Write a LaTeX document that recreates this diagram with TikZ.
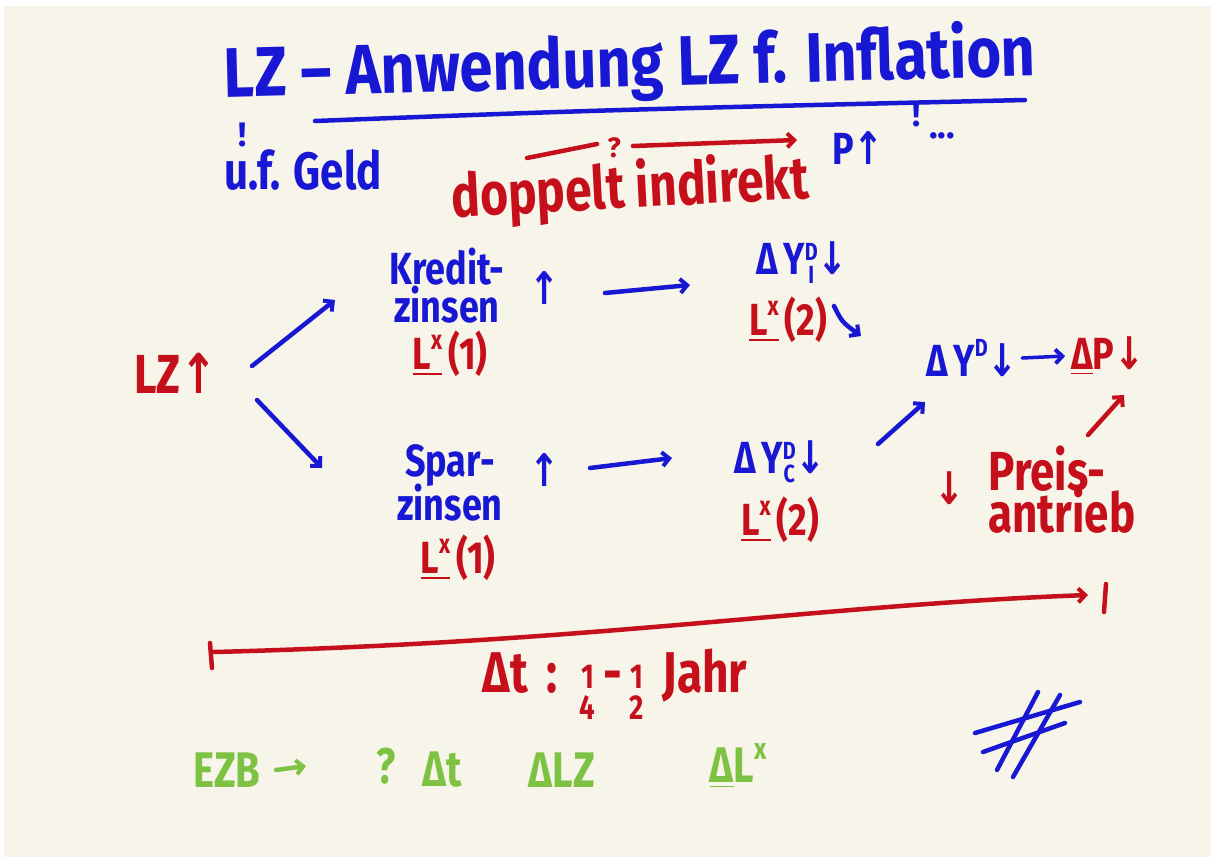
\documentclass[tikz,border=0pt]{standalone}
\usepackage{fontspec}
\usepackage{amsmath}
\usepackage{graphicx}
\setmainfont{Fira Sans}
\newfontfamily\arrfont{DejaVu Sans}
\usetikzlibrary{arrows.meta}
\definecolor{paper}{HTML}{F7F4E9}
\definecolor{ink}{HTML}{1818D4}
\definecolor{redink}{HTML}{C5101C}
\definecolor{greenink}{HTML}{7DC242}
\newcommand\hw[1]{\scalebox{1}[1.25]{#1}}
\newcommand\Lx{L\raisebox{0.45em}{\scalebox{0.6}{x}}}
\newcommand\upa{{\arrfont\bfseries ↑}}
\newcommand\dna{{\arrfont\bfseries ↓}}
\newcommand\ssb[2]{\raisebox{0.1em}{\scalebox{0.55}{\begin{tabular}{@{}c@{}}#1\\[-0.25em]#2\end{tabular}}}}
\newcommand\frc[2]{\raisebox{-0.15em}{\scalebox{0.6}{\begin{tabular}{@{}c@{}}#1\\[-0.2em]#2\end{tabular}}}}
\tikzset{
  txt/.style={inner sep=0pt, align=center, font=\fontsize{36}{42}\selectfont\bfseries},
  bl/.style={txt, text=ink},
  rd/.style={txt, text=redink},
  gr/.style={txt, text=greenink, font=\fontsize{40}{44}\selectfont\bfseries},
  barb/.style={-{Straight Barb[length=7pt,width=14pt,line width=4pt]}},
  bline/.style={draw=ink, line width=4.5pt, line cap=round},
  rline/.style={draw=redink, line width=4.5pt, line cap=round},
  gline/.style={draw=greenink, line width=4.5pt, line cap=round},
}
\begin{document}
\begin{tikzpicture}[x=1pt,y=-1pt]
\fill[white] (0,0) rectangle (1211,857);
\fill[paper] (4,6) rectangle (1211,857);
\useasboundingbox (0,0) rectangle (1211,857);

% title
\node[bl, font=\fontsize{54}{60}\selectfont\bfseries, rotate=1.5] (title) at (630,66) {\scalebox{1.1}[1.3]{LZ -- Anwendung LZ f. Inflation}};
\draw[bline] (315,121) .. controls (600,110) .. (1025,100);

% second row
\node[bl, font=\fontsize{34}{38}\selectfont\bfseries] (bang1) at (243,135) {!};
\node[bl, font=\fontsize{42}{46}\selectfont\bfseries] (geld) at (303,170) {\hw{u.f. Geld}};
\node[rd, font=\fontsize{28}{32}\selectfont\bfseries] (q) at (614,148) {?};
\coordinate (qa) at (527,158);
\coordinate (qb) at (797,140);
\draw[rline] (qa) -- ([xshift=-10pt,yshift=4pt]q.west);
\draw[rline, barb] ([xshift=12pt,yshift=2pt]q.east) -- (qb);
\node[rd, font=\fontsize{48}{52}\selectfont\bfseries, rotate=3] (dopp) at (630,190) {\hw{doppelt indirekt}};
\node[bl] (p) at (858,148) {\hw{P\upa}};
\node[bl, font=\fontsize{34}{38}\selectfont\bfseries] (bang2) at (917,115) {!};
\node[bl] (dots) at (942,136) {...};

% left
\node[rd, font=\fontsize{44}{48}\selectfont\bfseries] (lz) at (176,373) {\hw{LZ\upa}};
\coordinate (a1s) at (252,366);
\coordinate (a1e) at (335,300);
\coordinate (a2s) at (257,400);
\coordinate (a2e) at (322,468);
\draw[bline, barb] (a1s) -- (a1e);
\draw[bline, barb] (a2s) -- (a2e);

% upper branch
\node[bl] (kredit) at (447,286) {\hw{Kredit-}\\[-4pt]\hw{zinsen}};
\node[bl] (kup) at (545,288) {\hw{\upa}};
\node[rd] (lx1a) at (450,354) {\hw{\underline{\Lx}\,(1)}};
\coordinate (b1s) at (605,293);
\coordinate (b1e) at (690,285);
\draw[bline, barb] (b1s) -- (b1e);
\node[bl] (yi) at (802,266) {\hw{Δ\,Y\ssb{D}{I}\dna}};
\node[rd] (lx2a) at (788,320) {\hw{\underline{\Lx}\,(2)}};
\coordinate (c1s) at (834,306);
\coordinate (c1e) at (861,336);
\draw[bline, barb] (c1s) .. controls (842,322) .. (c1e);

% lower branch
\node[bl] (spar) at (450,483) {\hw{Spar-}\\[-4pt]\hw{zinsen}};
\node[bl] (sup) at (545,470) {\hw{\upa}};
\node[rd] (lx1b) at (458,558) {\hw{\underline{\Lx}\,(1)}};
\coordinate (b2s) at (590,468);
\coordinate (b2e) at (672,458);
\draw[bline, barb] (b2s) -- (b2e);
\node[bl] (yc) at (780,465) {\hw{Δ\,Y\ssb{D}{C}\dna}};
\node[rd] (lx2b) at (780,520) {\hw{\underline{\Lx}\,(2)}};
\coordinate (c2s) at (878,444);
\coordinate (c2e) at (925,402);
\draw[bline, barb] (c2s) -- (c2e);

% right
\node[bl] (y) at (972,358) {\hw{Δ\,Y\raisebox{0.45em}{\scalebox{0.55}{D}}\dna}};
\node[rd] (dp) at (1108,356) {\hw{\underline{Δ}P\dna}};
\draw[bline, line width=3.5pt, barb] ([xshift=4pt]y.east) -- ([xshift=-6pt]dp.west);
\node[rd] (pdown) at (950,488) {\hw{\dna}};
\node[rd, font=\fontsize{44}{46}\selectfont\bfseries, align=left] (preis) at (1062,490) {\hw{Preis-}\\[-4pt]\hw{antrieb}};
\coordinate (d1s) at (1088,435);
\coordinate (d1e) at (1124,395);
\draw[rline, barb] (d1s) -- (d1e);

% timeline
\coordinate (t0) at (214,652);
\coordinate (t1) at (1088,595);
\draw[rline] (210,643) -- (212,668);
\draw[rline, barb] (t0) .. controls (600,642) and (820,605) .. (t1);
\draw[rline] (1106,584) -- (1104,612);
\node[rd, font=\fontsize{46}{50}\selectfont\bfseries] (dt) at (615,690) {\hw{Δt \,:\, \frc{1}{4}\,-\,\frc{1}{2}\, Jahr}};

% green
\node[gr] (ezb) at (227,770) {\hw{EZB}};
\node[gr] (q2) at (386,766) {\hw{?}};
\coordinate (g1) at (276,770);
\coordinate (g2) at (306,766);
\draw[gline, barb] (g1) -- (g2);
\node[gr] (dt2) at (442,770) {\hw{Δt}};
\node[gr] (dlz) at (562,770) {\hw{ΔLZ}};
\node[gr] (dlx) at (738,766) {\hw{\underline{Δ}\Lx}};

% hash
\draw[bline] (1038,692) -- (997,770);
\draw[bline] (1060,695) -- (1013,777);
\draw[bline] (975,733) -- (1080,702);
\draw[bline] (983,752) -- (1065,723);
\end{tikzpicture}
\end{document}
